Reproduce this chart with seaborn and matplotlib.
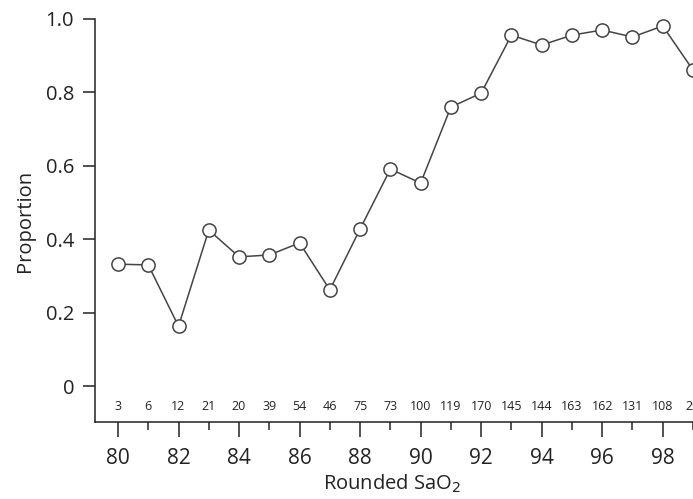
import matplotlib
matplotlib.use("Agg")
import matplotlib.pyplot as plt
import seaborn as sns
import pandas as pd
from matplotlib.ticker import MultipleLocator

sao2 = [80, 81, 82, 83, 84, 85, 86, 87, 88, 89, 90, 91, 92, 93, 94, 95, 96, 97, 98, 99]
proportion = [0.332, 0.330, 0.163, 0.425, 0.352, 0.357, 0.390, 0.262, 0.428, 0.591,
              0.553, 0.760, 0.798, 0.956, 0.929, 0.956, 0.970, 0.951, 0.981, 0.861]
counts = [3, 6, 12, 21, 20, 39, 54, 46, 75, 73, 100, 119, 170, 145, 144, 163, 162, 131, 108, 29]
yticks = [0, 0.2, 0.4, 0.6, 0.8, 1.0]
ytick_labels = ["0", "0.2", "0.4", "0.6", "0.8", "1.0"]
xticks = [80, 82, 84, 86, 88, 90, 92, 94, 96, 98]

df = pd.DataFrame({"sao2": sao2, "proportion": proportion})

sns.set_style("ticks")
plt.rcParams['font.family'] = ['Open Sans', 'DejaVu Sans']

fig = plt.figure(figsize=(6.93, 4.99), dpi=100)
ax = fig.add_axes([95/693, 1 - 422/499, 1 - 95/693, (422 - 19)/499])

sns.lineplot(data=df, x="sao2", y="proportion", ax=ax, color="#444444", linewidth=1.1,
             marker="o", markersize=9.5, markerfacecolor="white", markeredgecolor="#444444",
             markeredgewidth=1.1, clip_on=False)

ax.set_xlim(79.24, 99.0)
ax.set_ylim(-0.098, 1.0)
ax.set_yticks(yticks)
ax.set_yticklabels(ytick_labels)
ax.set_xticks(xticks)
ax.xaxis.set_minor_locator(MultipleLocator(1))

for x, c in zip(sao2, counts):
    ax.text(x, -0.055, str(c), ha="center", va="center", fontsize=9, color="#222222",
            clip_on=False)

ax.tick_params(axis="y", direction="out", length=9, width=1.1, labelsize=14.5, pad=6,
               colors="#222222")
ax.tick_params(axis="x", which="major", direction="out", length=11, width=1.1,
               labelsize=15, pad=8, colors="#222222")
ax.tick_params(axis="x", which="minor", direction="out", length=6, width=1.1)

for s in ["top", "right"]:
    ax.spines[s].set_visible(False)
for s in ["left", "bottom"]:
    ax.spines[s].set_linewidth(1.1)
    ax.spines[s].set_color("#222222")

ax.set_xlabel("Rounded SaO$_2$", fontsize=14.5, color="#222222")
ax.set_ylabel("Proportion", fontsize=14.5, color="#222222", labelpad=8)
ax.xaxis.set_label_coords(0.497, -0.153)
ax.xaxis.label.set_va("center")

fig.savefig("out.png", dpi=100)
